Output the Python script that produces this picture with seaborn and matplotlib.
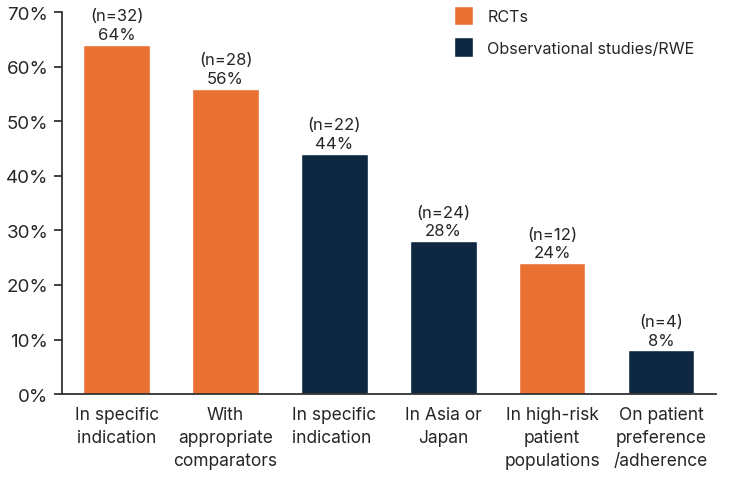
import numpy as np
import pandas as pd
import seaborn as sns
import matplotlib.pyplot as plt
from matplotlib.ticker import FuncFormatter
from matplotlib.patches import Patch

categories = ['In specific\nindication', 'With\nappropriate\ncomparators',
              'In specific\nindication ', 'In Asia or\nJapan',
              'In high-risk\npatient\npopulations', 'On patient\npreference\n/adherence']
study_type = ['RCTs', 'RCTs', 'Observational studies/RWE',
              'Observational studies/RWE', 'RCTs', 'Observational studies/RWE']
percent = [64, 56, 44, 28, 24, 8]
counts = [32, 28, 22, 24, 12, 4]

palette = {'RCTs': '#E97132', 'Observational studies/RWE': '#0E2841'}

df = pd.DataFrame({'Category': categories, 'Type': study_type,
                   'Percent': percent, 'n': counts})

sns.set_style('white')
plt.rcParams['font.family'] = ['Inter', 'DejaVu Sans']

fig = plt.figure(figsize=(7.5, 4.89), dpi=100)
ax = fig.add_axes([0.083, 0.192, 0.871, 0.781])

sns.barplot(data=df, x='Category', y='Percent', hue='Type', dodge=False,
            palette=palette, width=0.61, legend=False, ax=ax, saturation=1)

for i, row in df.iterrows():
    ax.annotate(f"{row['Percent']}%", (i, row['Percent']), xytext=(0, 7.5),
                textcoords='offset points', ha='center', va='center', fontsize=12)
    ax.annotate(f"(n={row['n']})", (i, row['Percent']), xytext=(0, 21),
                textcoords='offset points', ha='center', va='center', fontsize=12)

ax.set_xlim(-0.5, 5.5)
ax.set_ylim(0, 70)
ax.set_yticks(np.arange(0, 71, 10))
ax.yaxis.set_major_formatter(FuncFormatter(lambda v, p: f'{v:.0f}%'))
ax.set_xlabel('')
ax.set_ylabel('')
ax.tick_params(axis='y', which='major', left=True, length=6, width=1.2,
               color='#222222', labelsize=13.5, pad=4)
ax.tick_params(axis='x', bottom=False, labelsize=12.5, pad=5)
for lbl in ax.get_xticklabels():
    lbl.set_linespacing(1.45)

sns.despine(ax=ax)
for s in ['left', 'bottom']:
    ax.spines[s].set_color('#333333')
    ax.spines[s].set_linewidth(1.3)

handles = [Patch(facecolor=palette[k], label=k) for k in palette]
ax.legend(handles=handles, loc='upper left', bbox_to_anchor=(0.578, 1.055),
          frameon=False, fontsize=11.6, handlelength=1.15, handleheight=1.5,
          handletextpad=0.9, labelspacing=0.75)

plt.savefig('out.png', dpi=100)
